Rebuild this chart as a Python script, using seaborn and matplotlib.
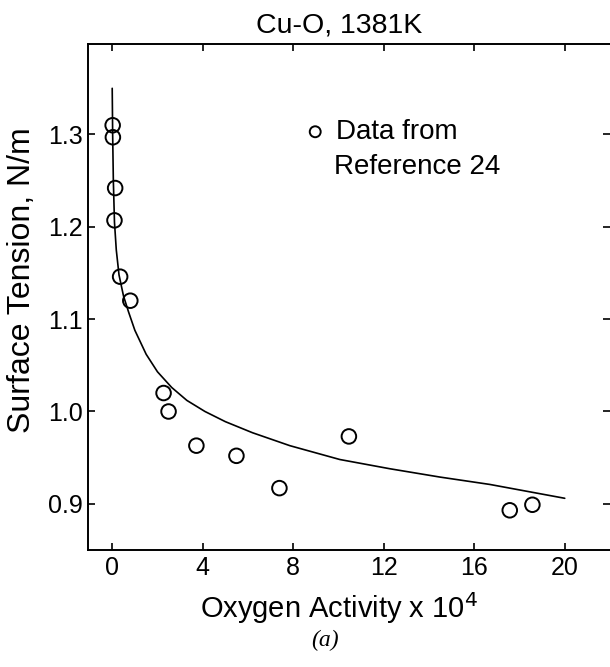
import matplotlib
matplotlib.use("Agg")
import matplotlib.pyplot as plt
import seaborn as sns

# measured points (oxygen activity x 1e4, surface tension N/m)
activity = [0.02, 0.03, 0.13, 0.10, 0.35, 0.80, 2.27, 2.49, 3.72, 5.49, 7.39, 10.46, 17.57, 18.57]
tension = [1.310, 1.297, 1.242, 1.207, 1.146, 1.120, 1.020, 1.000, 0.963, 0.952, 0.917, 0.973, 0.893, 0.899]

# fitted curve
fit_x = [0.0, 0.02, 0.05, 0.10, 0.18, 0.30, 0.50, 0.72, 1.0, 1.5, 2.0, 2.63, 3.3, 4.1, 5.0, 6.2, 7.85, 10.06, 12.27, 14.48, 16.69, 20.0]
fit_y = [1.35, 1.30, 1.25, 1.205, 1.175, 1.148, 1.125, 1.108, 1.088, 1.062, 1.043, 1.026, 1.012, 1.000, 0.989, 0.977, 0.963, 0.948, 0.938, 0.929, 0.921, 0.906]

x_ticks = [0, 4, 8, 12, 16, 20]
y_ticks = [0.9, 1.0, 1.1, 1.2, 1.3]

sns.set_style("ticks", {"text.color": "black", "axes.labelcolor": "black",
                        "xtick.color": "black", "ytick.color": "black", "axes.edgecolor": "black"})
plt.rcParams['font.family'] = ['Liberation Sans', 'DejaVu Sans']

fig = plt.figure(figsize=(6.1, 6.67), dpi=100)
ax = fig.add_axes([88 / 610, 1 - 550 / 667, 522 / 610, 506 / 667])

sns.lineplot(x=fit_x, y=fit_y, ax=ax, color="black", linewidth=1.2, sort=False, estimator=None)
sns.scatterplot(x=activity, y=tension, ax=ax, marker="o", s=110, facecolors="none",
                edgecolor="black", linewidth=1.4, label="Data from", zorder=3)

ax.set_xlim(-1.07, 22.0)
ax.set_ylim(0.850, 1.398)
ax.set_xticks(x_ticks)
ax.set_yticks(y_ticks)
ax.set_yticklabels([f"{v:.1f}" for v in y_ticks])
ax.tick_params(direction="in", top=True, right=True, length=5, width=1.2,
               labelsize=18, pad=4)
for s in ax.spines.values():
    s.set_linewidth(1.4)
ax.spines["right"].set_visible(False)

ax.set_xlabel("Oxygen Activity x 10$^4$", fontsize=21)
ax.set_ylabel("Surface Tension, N/m", fontsize=23)
ax.xaxis.set_label_coords(0.481, -0.08)
ax.yaxis.set_label_coords(-0.097, 0.534)
ax.set_title("Cu-O, 1381K", fontsize=20.5, x=0.481, pad=8)

ax.legend(loc="center left", bbox_to_anchor=(0.414, 0.826), frameon=False, fontsize=20,
          handlelength=0.8, handletextpad=0.35, borderpad=0, borderaxespad=0, markerscale=0.75)
ax.text(0.471, 0.757, "Reference 24", transform=ax.transAxes, fontsize=20, va="center", ha="left")

fig.text(0.533, 0.04, "(a)", fontsize=17, family="Liberation Serif", style="italic", ha="center", va="center")

fig.savefig("out.png", dpi=100)
